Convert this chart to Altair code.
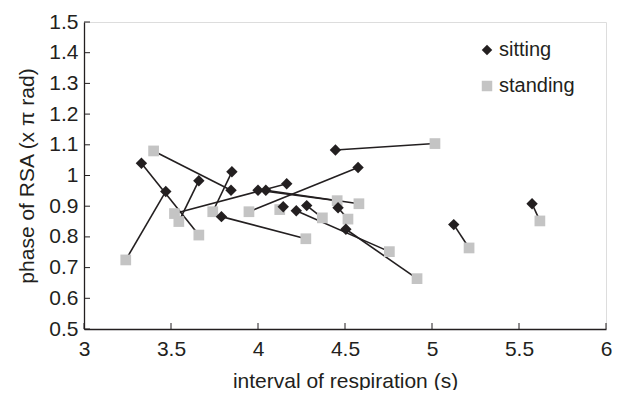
import altair as alt
import pandas as pd

# Paired measurements (one subject per index): sitting -> standing
sitting_x = [3.33, 3.47, 3.66, 3.845, 3.85, 3.79, 4.00, 4.045, 4.165, 4.22, 4.145, 4.28, 4.445, 4.575, 4.46, 4.505, 5.125, 5.575]
sitting_y = [1.04, 0.948, 0.983, 0.952, 1.012, 0.866, 0.952, 0.952, 0.973, 0.885, 0.898, 0.902, 1.083, 1.026, 0.895, 0.825, 0.84, 0.908]
standing_x = [3.66, 3.24, 3.545, 3.40, 3.74, 4.275, 4.455, 4.58, 3.52, 4.755, 4.125, 4.37, 5.017, 3.948, 4.517, 4.914, 5.213, 5.62]
standing_y = [0.806, 0.725, 0.85, 1.08, 0.882, 0.794, 0.918, 0.908, 0.876, 0.752, 0.889, 0.862, 1.104, 0.882, 0.858, 0.664, 0.764, 0.852]

x_ticks = [3, 3.5, 4, 4.5, 5, 5.5, 6]
y_ticks = [0.5, 0.6, 0.7, 0.8, 0.9, 1.0, 1.1, 1.2, 1.3, 1.4, 1.5]
postures = ["sitting", "standing"]

rows = []
for i in range(len(sitting_x)):
    rows.append({"subject": i, "posture": "sitting", "x": sitting_x[i], "y": sitting_y[i], "order": 0})
    rows.append({"subject": i, "posture": "standing", "x": standing_x[i], "y": standing_y[i], "order": 1})
df = pd.DataFrame(rows)

W, H = 522, 307
FONT = "Liberation Sans"
DARK = "#231f20"
GRAY = "#c4c4c4"

xs = alt.Scale(domain=[3, 6], nice=False, zero=False)
ys = alt.Scale(domain=[0.5, 1.5], nice=False, zero=False)

x_axis = alt.Axis(values=x_ticks, format=".1~f", tickSize=0, domain=True, domainColor=DARK,
                  domainWidth=1.3, grid=False, labelOverlap=False, labelFlush=False,
                  labelFontSize=21, labelPadding=9, title="interval of respiration (s)",
                  titleFontSize=21, titleFontWeight="normal", titlePadding=11,
                  labelColor=DARK, titleColor=DARK, labelFont=FONT, titleFont=FONT)
y_axis = alt.Axis(values=y_ticks, format=".1~f", tickSize=0, domain=True, domainColor=DARK,
                  domainWidth=1.3, grid=False, labelOverlap=False, labelFlush=False,
                  labelFontSize=21, labelPadding=6, title="phase of RSA (x  π rad)",
                  titleFontSize=21, titleFontWeight="normal", titlePadding=11,
                  labelColor=DARK, titleColor=DARK, labelFont=FONT, titleFont=FONT)

legend = alt.Legend(title=None, orient="none", legendX=393, legendY=18,
                    labelFontSize=20, labelFont=FONT, labelColor=DARK,
                    symbolSize=110, rowPadding=16, labelOffset=2,
                    symbolStrokeWidth=0, padding=0)

shape_scale = alt.Scale(domain=postures, range=["diamond", "square"])
color_scale = alt.Scale(domain=postures, range=[DARK, GRAY])

base = alt.Chart(df)

lines = base.mark_line(color=DARK, strokeWidth=1.6).encode(
    x=alt.X("x:Q", scale=xs, axis=x_axis),
    y=alt.Y("y:Q", scale=ys, axis=y_axis),
    detail="subject:N",
    order="order:Q",
)

squares = base.transform_filter(alt.datum.posture == "standing").mark_point(
    filled=True, opacity=1, size=115, strokeWidth=0).encode(
    x=alt.X("x:Q", scale=xs, axis=x_axis),
    y=alt.Y("y:Q", scale=ys, axis=y_axis),
    shape=alt.Shape("posture:N", scale=shape_scale, legend=legend),
    color=alt.Color("posture:N", scale=color_scale, legend=legend),
)

diamonds = base.transform_filter(alt.datum.posture == "sitting").mark_point(
    filled=True, opacity=1, size=130, strokeWidth=0).encode(
    x=alt.X("x:Q", scale=xs, axis=x_axis),
    y=alt.Y("y:Q", scale=ys, axis=y_axis),
    shape=alt.Shape("posture:N", scale=shape_scale, legend=legend),
    color=alt.Color("posture:N", scale=color_scale, legend=legend),
)

xtick_df = pd.DataFrame({"v": x_ticks})
ytick_df = pd.DataFrame({"v": y_ticks})
xticks = alt.Chart(xtick_df).mark_rule(color=DARK, strokeWidth=1).encode(
    x=alt.X("v:Q", scale=xs, axis=x_axis), y=alt.value(H), y2=alt.value(H - 6))
yticks = alt.Chart(ytick_df).mark_rule(color=DARK, strokeWidth=1).encode(
    y=alt.Y("v:Q", scale=ys, axis=y_axis), x=alt.value(0), x2=alt.value(6))

chart = alt.layer(lines, xticks, yticks, squares, diamonds).resolve_scale(
    shape="shared", color="shared"
).properties(
    width=W, height=H,
    autosize=alt.AutoSizeParams(type="none"),
    padding={"left": 76, "top": 14, "right": 9, "bottom": 61},
).configure_view(stroke="#555555", strokeWidth=1.3).configure_axis(
    labelOverlap=False
).configure(background="white")

chart.save("out.html", embed_options={"renderer": "svg", "actions": False})
